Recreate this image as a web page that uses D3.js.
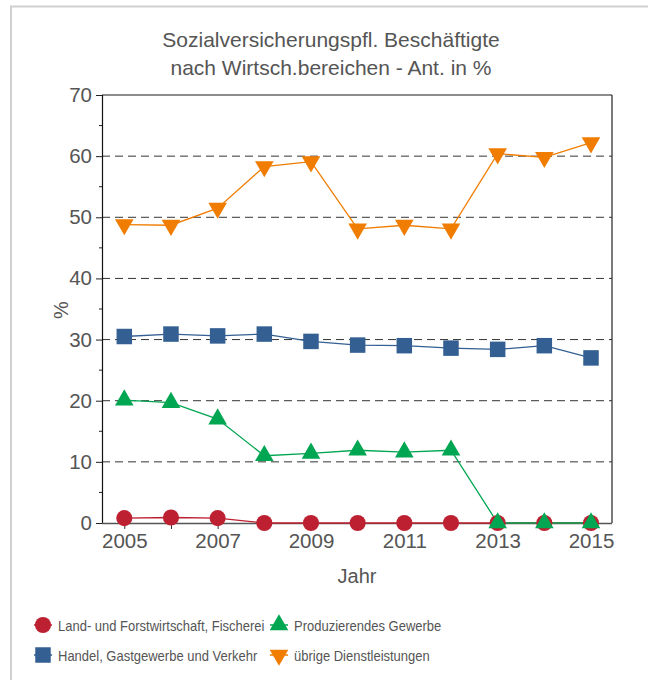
<!DOCTYPE html>
<html>
<head>
<meta charset="utf-8">
<script src="https://cdn.jsdelivr.net/npm/d3@7"></script>
<style>
  body { margin: 0; background: #fff; }
  svg { display: block; font-family: "Liberation Sans", Arial, sans-serif; }
</style>
</head>
<body>
<script>
'use strict';

// chart data
const years = [2005, 2006, 2007, 2008, 2009, 2010, 2011, 2012, 2013, 2014, 2015];
const landwirtschaft = [0.8, 0.9, 0.8, 0, 0, 0, 0, 0, 0, 0, 0];
const produzierend = [20.1, 19.7, 17.0, 11.0, 11.4, 11.9, 11.6, 11.9, 0, 0, 0];
const handel = [30.5, 30.9, 30.6, 30.9, 29.7, 29.1, 29.0, 28.6, 28.4, 29.0, 27.0];
const dienstleistungen = [48.8, 48.7, 51.5, 58.3, 59.1, 48.1, 48.7, 48.1, 60.4, 59.8, 62.2];
const seriesNames = ["Land- und Forstwirtschaft, Fischerei", "Produzierendes Gewerbe",
  "Handel, Gastgewerbe und Verkehr", "übrige Dienstleistungen"];
const yTicks = [0, 10, 20, 30, 40, 50, 60, 70];
const xLabels = [2005, 2007, 2009, 2011, 2013, 2015];

(function() {

  const series = [
    { name: seriesNames[0], values: landwirtschaft, color: "#bd2031", symbol: d3.symbolCircle, rot: 0 },
    { name: seriesNames[1], values: produzierend, color: "#00a651", symbol: d3.symbolTriangle, rot: 0 },
    { name: seriesNames[2], values: handel, color: "#335f92", symbol: d3.symbolSquare, rot: 0 },
    { name: seriesNames[3], values: dienstleistungen, color: "#f07c00", symbol: d3.symbolTriangle, rot: 180 }
  ];

  // marker area per symbol type
  function markerSize(sym) {
    if (sym === d3.symbolSquare) return 240;
    if (sym === d3.symbolCircle) return 205;
    return 150;
  }

  const svg = d3.select('body').append('svg')
    .attr('width', 648)
    .attr('height', 680);

  // outer frame
  svg.append('rect')
    .attr('x', 11).attr('y', 6.5)
    .attr('width', 700).attr('height', 700)
    .attr('fill', 'none')
    .attr('stroke', '#d0d0d0')
    .attr('stroke-width', 2);

  // title
  svg.append('text')
    .attr('x', 331).attr('y', 47)
    .attr('text-anchor', 'middle')
    .style('font-size', '21px').attr('fill', '#555')
    .text('Sozialversicherungspfl. Beschäftigte');
  svg.append('text')
    .attr('x', 331).attr('y', 75)
    .attr('text-anchor', 'middle')
    .style('font-size', '21px').attr('fill', '#555')
    .text('nach Wirtsch.bereichen - Ant. in %');

  const plotLeft = 102, plotRight = 612, plotTop = 95, plotBottom = 523;

  const x = d3.scaleLinear().domain([2005, 2015]).range([124.3, 591]);
  const y = d3.scaleLinear().domain([0, 70]).range([plotBottom, plotTop]);

  // gridlines
  svg.append('g')
    .selectAll('line')
    .data(yTicks.filter(t => t > 0 && t < 70))
    .enter().append('line')
      .attr('x1', plotLeft).attr('x2', plotRight)
      .attr('y1', d => y(d)).attr('y2', d => y(d))
      .attr('stroke', '#333')
      .attr('stroke-width', 1)
      .attr('stroke-dasharray', '8,5');

  // top and right frame of plot area
  svg.append('line')
    .attr('x1', plotLeft).attr('x2', plotRight).attr('y1', plotTop).attr('y2', plotTop)
    .attr('stroke', '#666').attr('stroke-width', 1.5);
  svg.append('line')
    .attr('x1', plotRight).attr('x2', plotRight).attr('y1', plotTop).attr('y2', plotBottom)
    .attr('stroke', '#222').attr('stroke-width', 1.2);

  // y axis
  const yAxis = d3.axisLeft(y).tickValues(yTicks).tickSize(6).tickPadding(4);
  const gy = svg.append('g')
    .attr('transform', 'translate(' + plotLeft + ',0)')
    .call(yAxis);
  gy.select('.domain').attr('stroke', '#111').attr('stroke-width', 1.2);
  gy.selectAll('.tick line').attr('stroke', '#222');
  gy.selectAll('.tick text')
    .style('font-size', '20.5px')
    .attr('fill', '#555')
    .attr('font-family', '"Liberation Sans", Arial, sans-serif');

  // y minor ticks
  svg.append('g')
    .selectAll('line')
    .data(d3.range(5, 70, 10))
    .enter().append('line')
      .attr('x1', plotLeft - 3).attr('x2', plotLeft)
      .attr('y1', d => y(d)).attr('y2', d => y(d))
      .attr('stroke', '#222');

  // x axis
  const xAxis = d3.axisBottom(x).tickValues(years).tickSize(6).tickPadding(4)
    .tickFormat(d => xLabels.indexOf(d) >= 0 ? d : '');
  const gx = svg.append('g')
    .attr('transform', 'translate(0,' + plotBottom + ')')
    .call(xAxis);
  gx.select('.domain').attr('d', 'M' + plotLeft + ',0.5H' + plotRight).attr('stroke', '#555').attr('stroke-width', 1.5);
  gx.selectAll('.tick line').attr('stroke', '#333');
  gx.selectAll('.tick text')
    .style('font-size', '20.5px')
    .attr('fill', '#555')
    .attr('font-family', '"Liberation Sans", Arial, sans-serif');

  // axis labels
  svg.append('text')
    .attr('x', 357).attr('y', 583)
    .attr('text-anchor', 'middle')
    .style('font-size', '20px').attr('fill', '#555')
    .text('Jahr');
  svg.append('text')
    .attr('transform', 'translate(68,310)rotate(-90)')
    .attr('text-anchor', 'middle')
    .style('font-size', '20px').attr('fill', '#555')
    .text('%');

  // lines and markers
  const line = d3.line()
    .x((d, i) => x(years[i]))
    .y(d => y(d));

  series.forEach(s => {
    svg.append('path')
      .datum(s.values)
      .attr('fill', 'none')
      .attr('stroke', s.color)
      .attr('stroke-width', 1.3)
      .attr('d', line);
  });

  series.forEach(s => {
    svg.append('g')
      .selectAll('path')
      .data(s.values)
      .enter().append('path')
        .attr('d', d3.symbol().type(s.symbol).size(markerSize(s.symbol)))
        .attr('transform', (d, i) => 'translate(' + x(years[i]) + ',' + y(d) + ')rotate(' + s.rot + ')')
        .attr('fill', s.color);
  });

  // legend
  const legendPos = [
    { x: 43, y: 625 }, { x: 279, y: 625 },
    { x: 43, y: 655 }, { x: 279, y: 655 }
  ];
  series.forEach((s, i) => {
    const p = legendPos[i];
    const g = svg.append('g').attr('transform', 'translate(' + p.x + ',' + p.y + ')');
    g.append('line')
      .attr('x1', -9).attr('x2', 9)
      .attr('stroke', s.color).attr('stroke-width', 1.5);
    g.append('path')
      .attr('d', d3.symbol().type(s.symbol).size(markerSize(s.symbol)))
      .attr('transform', 'rotate(' + s.rot + ')')
      .attr('fill', s.color);
    // slightly condensed text, like the original
    g.append('text')
      .attr('transform', 'translate(15,5.5)scale(0.89,1)')
      .style('font-size', '14.6px').attr('fill', '#555')
      .text(s.name);
  });
})();
</script>
</body>
</html>
